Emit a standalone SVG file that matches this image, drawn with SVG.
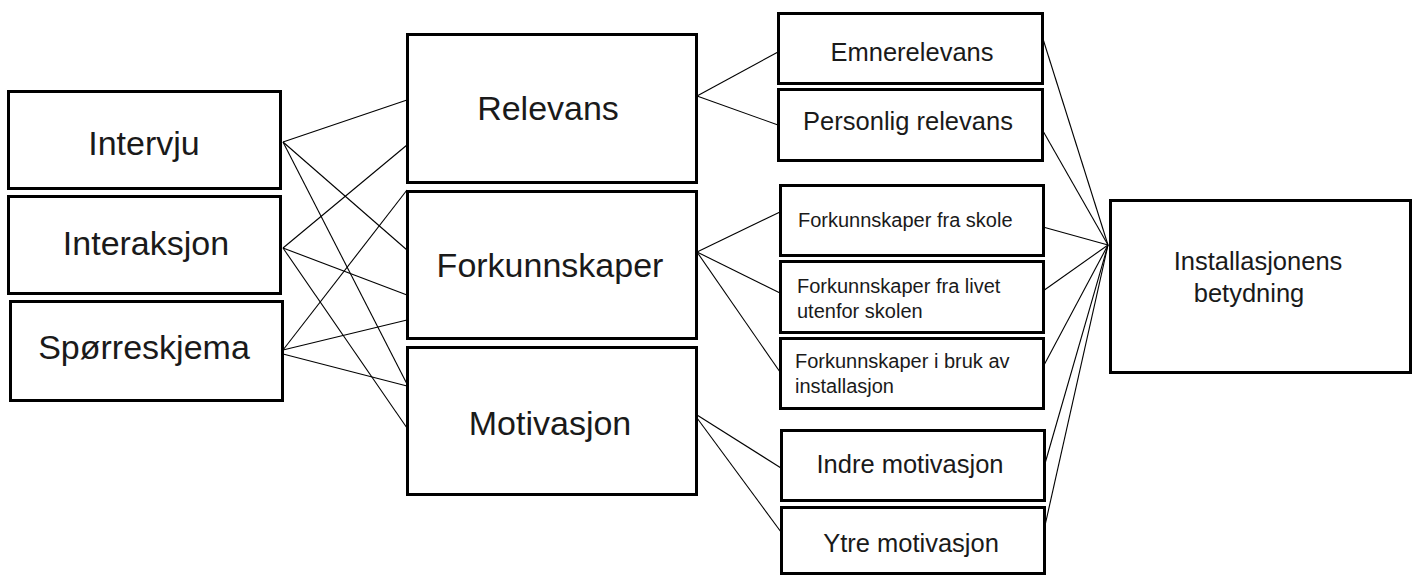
<svg xmlns="http://www.w3.org/2000/svg" width="1416" height="575" viewBox="0 0 1416 575">
<style>
.box{fill:#fff;stroke:#000;stroke-width:3}
.t{font-family:"Liberation Sans",Arial,sans-serif;fill:#1a1a1a}
.big{font-size:34px;text-anchor:middle}
.mid{font-size:25.5px;text-anchor:middle}
.sm{font-size:20px}
.c line{stroke:#000;stroke-width:1.1}
</style>
<rect width="1416" height="575" fill="#fff"/>
<g id="connectors" class="c">
<line x1="283" y1="142" x2="407" y2="100"/>
<line x1="283" y1="142" x2="407" y2="250"/>
<line x1="283" y1="142" x2="407" y2="384"/>
<line x1="283" y1="248" x2="407" y2="145"/>
<line x1="283" y1="248" x2="407" y2="295"/>
<line x1="283" y1="248" x2="407" y2="428"/>
<line x1="283" y1="350" x2="407" y2="190"/>
<line x1="283" y1="350" x2="407" y2="320"/>
<line x1="283" y1="354" x2="407" y2="386"/>
<line x1="697" y1="96" x2="778" y2="52"/>
<line x1="697" y1="96" x2="778" y2="125"/>
<line x1="697" y1="252" x2="780" y2="212"/>
<line x1="697" y1="252" x2="780" y2="293"/>
<line x1="697" y1="252" x2="780" y2="372"/>
<line x1="697" y1="415" x2="781" y2="468"/>
<line x1="697" y1="418" x2="781" y2="532"/>
<line x1="1043" y1="39" x2="1108" y2="245"/>
<line x1="1043" y1="131" x2="1108" y2="245"/>
<line x1="1043" y1="227" x2="1108" y2="245"/>
<line x1="1043" y1="291" x2="1108" y2="245"/>
<line x1="1043" y1="367" x2="1108" y2="245"/>
<line x1="1044" y1="467" x2="1108" y2="245"/>
<line x1="1044" y1="530" x2="1108" y2="245"/>
</g>
<g id="intervju"><rect class="box" x="8.5" y="91.5" width="272" height="97"/><text class="t big" x="144" y="155">Intervju</text></g>
<g id="interaksjon"><rect class="box" x="8.5" y="196.5" width="272" height="97"/><text class="t big" x="146" y="255">Interaksjon</text></g>
<g id="sporreskjema"><rect class="box" x="10.5" y="301.5" width="272" height="99"/><text class="t big" x="144" y="359">Spørreskjema</text></g>
<g id="relevans"><rect class="box" x="407.5" y="34.5" width="289" height="148"/><text class="t big" x="548" y="120">Relevans</text></g>
<g id="forkunnskaper"><rect class="box" x="407.5" y="191.5" width="289" height="147"/><text class="t big" x="550" y="277">Forkunnskaper</text></g>
<g id="motivasjon"><rect class="box" x="407.5" y="347.5" width="289" height="147"/><text class="t big" x="550" y="435">Motivasjon</text></g>
<g id="emnerelevans"><rect class="box" x="778.5" y="13.5" width="264" height="70"/><text class="t mid" x="912" y="61">Emnerelevans</text></g>
<g id="personlig"><rect class="box" x="778.5" y="89.5" width="264" height="71"/><text class="t mid" x="908" y="130">Personlig relevans</text></g>
<g id="fk-skole"><rect class="box" x="780.5" y="185.5" width="263" height="70"/><text class="t sm" x="798" y="227">Forkunnskaper fra skole</text></g>
<g id="fk-livet"><rect class="box" x="780.5" y="261.5" width="263" height="71"/><text class="t sm" x="797" y="293">Forkunnskaper fra livet</text><text class="t sm" x="797" y="318">utenfor skolen</text></g>
<g id="fk-bruk"><rect class="box" x="780.5" y="338.5" width="263" height="70"/><text class="t sm" x="795" y="368">Forkunnskaper i bruk av</text><text class="t sm" x="795" y="393">installasjon</text></g>
<g id="indre"><rect class="box" x="781.5" y="430.5" width="263" height="70"/><text class="t mid" x="910" y="473">Indre motivasjon</text></g>
<g id="ytre"><rect class="box" x="781.5" y="507.5" width="263" height="66"/><text class="t mid" x="911" y="552">Ytre motivasjon</text></g>
<g id="installasjonens"><rect class="box" x="1110.5" y="200.5" width="300" height="172"/><text class="t mid" x="1258" y="270">Installasjonens</text><text class="t mid" x="1249" y="302">betydning</text></g>
</svg>
